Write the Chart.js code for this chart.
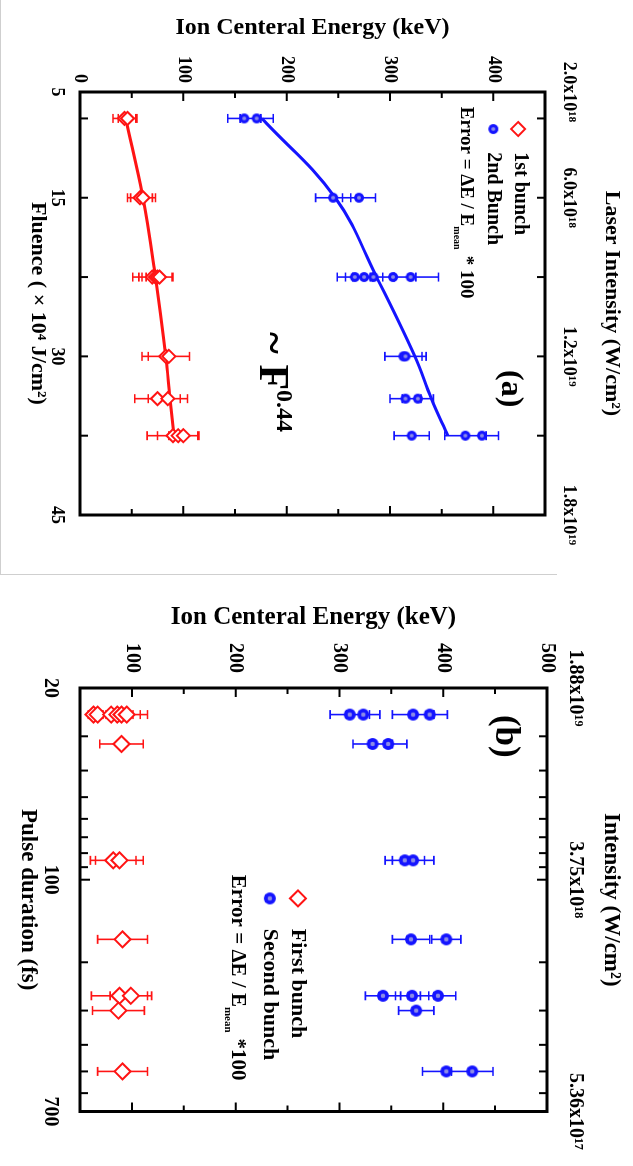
<!DOCTYPE html>
<html>
<head>
<meta charset="utf-8">
<script src="https://cdn.jsdelivr.net/npm/chart.js@4.4.1/dist/chart.umd.min.js"></script>
<style>
  body { margin: 0; background: #fff; }
  #page { position: relative; width: 633px; height: 1166px; overflow: hidden; }
  .frame { position: absolute; left: 0; top: 0; width: 556px; height: 574px; border-left: 1px solid #cfcfcf; border-bottom: 1px solid #cfcfcf; }
  canvas.turned { position: absolute; left: 0; transform-origin: 0 0; transform: translateX(633px) rotate(90deg); }
</style>
</head>
<body>
<div id="page">
  <div class="frame"></div>
  <canvas id="chartA" class="turned" width="580" height="633" style="top:0"></canvas>
  <canvas id="chartB" class="turned" width="581" height="633" style="top:585px"></canvas>
</div>
<script>
// ---------- panel (a): ion energy vs fluence ----------
const fluenceTicks = [5, 7.5, 15, 22.5, 30, 37.5, 45];
const fluenceLabels = {5: '5', 15: '15', 30: '30', 45: '45'};
const laserLabels = {5: '2.0x10¹⁸', 15: '6.0x10¹⁸', 30: '1.2x10¹⁹', 45: '1.8x10¹⁹'};

const firstFluence = [7.5, 7.5, 15, 15, 22.5, 22.5, 22.5, 22.5, 30, 30, 34, 34, 37.5, 37.5, 37.5];
const firstEnergy  = [43, 46, 58, 61, 70, 73, 75, 77, 83, 86, 75, 85, 90, 95, 100];
const firstError   = [11, 9, 12, 12, 19, 16, 15, 13, 23, 20, 22, 19, 25, 20, 14];

const secondFluence = [7.5, 7.5, 15, 15, 22.5, 22.5, 22.5, 22.5, 22.5, 30, 30, 34, 34, 37.5, 37.5, 37.5];
const secondEnergy  = [159, 171, 245, 270, 266, 275, 284, 303, 320, 313, 315, 315, 327, 321, 373, 389];
const secondError   = [16, 16, 17, 16, 17, 18, 20, 22, 27, 18, 20, 15, 15, 17, 20, 16];

const fitFluence = [7.5, 15, 22.5, 30, 34, 37.5];
const fitFirst   = [44, 61, 73, 83, 87, 91];
const fitSecond  = [176, 247, 287, 324, 340, 356];

// ---------- panel (b): ion energy vs pulse duration ----------
const pulseTicks = [20, 30, 40, 50, 60, 70, 80, 90, 100, 200, 300, 400, 500, 600, 700];
const pulseLabels = {20: '20', 100: '100', 700: '700'};
const intensityLabels = {20: '1.88x10¹⁹', 100: '3.75x10¹⁸', 700: '5.36x10¹⁷'};

const firstPulse   = [25, 25, 25, 25, 25, 25, 32, 85, 85, 165, 265, 265, 300, 500];
const firstEnergyB = [63, 67, 80, 86, 90, 95, 90, 82, 88, 91, 88, 99, 87, 91];
const firstErrorB  = [5, 5, 14, 15, 18, 20, 21, 22, 23, 24, 27, 20, 25, 24];

const secondPulse   = [25, 25, 25, 25, 32, 32, 85, 85, 165, 165, 265, 265, 265, 300, 500, 500];
const secondEnergyB = [310, 323, 371, 387, 332, 347, 363, 371, 369, 403, 342, 370, 395, 374, 403, 428];
const secondErrorB  = [19, 16, 20, 17, 19, 18, 19, 20, 18, 14, 17, 16, 17, 17, 23, 20];

const serif = '"Liberation Serif", "Times New Roman", Times, serif';
const red = '#ff1414';
const blue = '#1414ff';

function pts(xs, ys) {
    return xs.map((x, i) => ({x: x, y: ys[i]}));
}

// shaded blue sphere used as point style
function ball(r) {
    const c = document.createElement('canvas');
    c.width = c.height = 2 * r + 2;
    const g = c.getContext('2d');
    const m = r + 1;
    g.fillStyle = blue;
    g.beginPath(); g.arc(m, m, r, 0, 2 * Math.PI); g.fill();
    g.fillStyle = '#8c8ce6';
    g.beginPath(); g.arc(m, m, r * 0.38, 0, 2 * Math.PI); g.fill();
    return c;
}

function boldFont(size) {
    return {family: serif, size: size, weight: 'bold'};
}

// vertical error bars (energy direction) with caps
const errorBars = {
    id: 'errorBars',
    beforeDatasetsDraw(chart) {
        const ctx = chart.ctx;
        const xs = chart.scales.x, ys = chart.scales.y;
        chart.data.datasets.forEach(ds => {
            if (!ds.errors) return;
            ctx.save();
            ctx.strokeStyle = ds.borderColor;
            ctx.lineWidth = 1.6;
            ctx.beginPath();
            ds.data.forEach((p, j) => {
                const px = xs.getPixelForValue(p.x);
                const lo = ys.getPixelForValue(p.y - ds.errors[j]);
                const hi = ys.getPixelForValue(p.y + ds.errors[j]);
                ctx.moveTo(px, lo); ctx.lineTo(px, hi);
                ctx.moveTo(px - 4.5, lo); ctx.lineTo(px + 4.5, lo);
                ctx.moveTo(px - 4.5, hi); ctx.lineTo(px + 4.5, hi);
            });
            ctx.stroke();
            ctx.restore();
        });
    }
};

// closed box with inward ticks on all four sides
function frameTicks(xLen, yStep) {
    return {
        id: 'frameTicks',
        afterDraw(chart) {
            const ctx = chart.ctx, a = chart.chartArea;
            const xs = chart.scales.x, ys = chart.scales.y;
            ctx.save();
            ctx.strokeStyle = '#000';
            ctx.lineWidth = 2;
            ctx.beginPath();
            xs.ticks.forEach(t => {
                const p = xs.getPixelForValue(t.value);
                const len = xLen(t.value);
                ctx.moveTo(p, a.bottom); ctx.lineTo(p, a.bottom - len);
                ctx.moveTo(p, a.top); ctx.lineTo(p, a.top + len);
            });
            ys.ticks.forEach(t => {
                const p = ys.getPixelForValue(t.value);
                const len = t.value % yStep === 0 ? 9 : 6;
                ctx.moveTo(a.left, p); ctx.lineTo(a.left + len, p);
                ctx.moveTo(a.right, p); ctx.lineTo(a.right - len, p);
            });
            ctx.stroke();
            ctx.lineWidth = 3;
            ctx.strokeRect(a.left, a.top, a.right - a.left, a.bottom - a.top);
            ctx.restore();
        }
    };
}

// legend marks and free text placed in data coordinates
function notes(items) {
    return {
        id: 'notes',
        afterDatasetsDraw(chart) {
            const ctx = chart.ctx;
            const xs = chart.scales.x, ys = chart.scales.y;
            ctx.save();
            items.forEach(it => {
                const px = xs.getPixelForValue(it.x);
                const py = ys.getPixelForValue(it.y);
                if (it.mark === 'diamond') {
                    ctx.strokeStyle = red;
                    ctx.lineWidth = 2;
                    ctx.beginPath();
                    ctx.moveTo(px, py - it.r); ctx.lineTo(px + it.r, py);
                    ctx.lineTo(px, py + it.r); ctx.lineTo(px - it.r, py);
                    ctx.closePath();
                    ctx.stroke();
                    return;
                }
                if (it.mark === 'ball') {
                    const img = ball(it.r);
                    ctx.drawImage(img, px - img.width / 2, py - img.height / 2);
                    return;
                }
                ctx.fillStyle = '#000';
                ctx.textAlign = 'left';
                ctx.textBaseline = it.base || 'middle';
                let total = 0;
                it.parts.forEach(p => {
                    ctx.font = 'bold ' + p.size + 'px ' + serif;
                    total += ctx.measureText(p.text).width + (p.gap || 0);
                });
                let cx = it.align === 'center' ? px - total / 2 : px;
                it.parts.forEach(p => {
                    ctx.font = 'bold ' + p.size + 'px ' + serif;
                    ctx.fillText(p.text, cx, py + (p.dy || 0));
                    cx += ctx.measureText(p.text).width + (p.gap || 0);
                });
            });
            ctx.restore();
        }
    };
}

function fixedTicks(values) {
    return scale => { scale.ticks = values.map(v => ({value: v})); };
}

// ---------- chart (a) ----------
new Chart(document.getElementById('chartA'), {
    type: 'scatter',
    data: {
        datasets: [{
            label: '1st bunch',
            data: pts(firstFluence, firstEnergy),
            errors: firstError,
            pointStyle: 'rectRot',
            pointRadius: 6.5,
            borderColor: red,
            backgroundColor: '#fff',
            borderWidth: 2,
            order: 1,
        }, {
            label: '2nd Bunch',
            data: pts(secondFluence, secondEnergy),
            errors: secondError,
            pointStyle: ball(5),
            borderColor: blue,
            backgroundColor: blue,
            order: 1,
        }, {
            label: 'fit 1st',
            data: pts(fitFluence, fitFirst),
            showLine: true,
            pointRadius: 0,
            borderColor: red,
            borderWidth: 3,
            tension: 0.4,
            order: 2,
        }, {
            label: 'fit 2nd',
            data: pts(fitFluence, fitSecond),
            showLine: true,
            pointRadius: 0,
            borderColor: blue,
            borderWidth: 3,
            tension: 0.4,
            order: 2,
        }],
    },
    options: {
        responsive: false,
        animation: false,
        events: [],
        layout: {padding: {right: 65}},
        plugins: {legend: {display: false}, tooltip: {enabled: false}},
        scales: {
            x: {
                type: 'linear', position: 'bottom', min: 5, max: 45,
                afterBuildTicks: fixedTicks(fluenceTicks),
                afterFit: s => { s.height = 80; },
                grid: {display: false, drawTicks: false},
                border: {display: false},
                ticks: {autoSkip: false, maxRotation: 0, minRotation: 0, padding: 13, color: '#000',
                    font: boldFont(18), callback: v => fluenceLabels[v] || ''},
                title: {display: true, text: 'Fluence ( × 10⁴ J/cm²)', color: '#000',
                    font: boldFont(22), padding: {top: 0, bottom: 24}},
            },
            x2: {
                type: 'linear', position: 'top', min: 5, max: 45,
                afterBuildTicks: fixedTicks(fluenceTicks),
                afterFit: s => { s.height = 88; },
                grid: {display: false, drawTicks: false},
                border: {display: false},
                ticks: {autoSkip: false, maxRotation: 0, minRotation: 0, padding: 13, color: '#000',
                    font: boldFont(18), callback: v => laserLabels[v] || ''},
                title: {display: true, text: 'Laser Intensity (W/cm²)', color: '#000',
                    font: boldFont(22), padding: {top: 8, bottom: 0}},
            },
            y: {
                type: 'linear', position: 'left', min: 0, max: 450,
                afterFit: s => { s.width = 92; },
                grid: {display: false, drawTicks: false},
                border: {display: false},
                ticks: {stepSize: 50, autoSkip: false, padding: 9, color: '#000', font: boldFont(18),
                    callback: v => (v % 100 === 0 ? String(v) : '')},
                title: {display: true, text: 'Ion Centeral Energy (keV)', color: '#000',
                    font: boldFont(24), padding: {top: 13, bottom: 0}},
            },
        },
    },
    plugins: [errorBars, frameTicks(() => 8, 100), notes([
        {mark: 'diamond', x: 8.5, y: 424, r: 7},
        {x: 10.7, y: 426, parts: [{text: '1st bunch', size: 20}]},
        {mark: 'ball', x: 8.5, y: 400, r: 5},
        {x: 10.7, y: 400, parts: [{text: '2nd Bunch', size: 20}]},
        {x: 6.4, y: 373, parts: [
            {text: 'Error = ΔE / E', size: 19},
            {text: 'mean', size: 10, dy: 9, gap: 6},
            {text: '* 100', size: 19},
        ]},
        {x: 33.05, y: 416, align: 'center', parts: [{text: '(a)', size: 32}]},
        {x: 27.7, y: 174, base: 'alphabetic', parts: [
            {text: '~ F', size: 42},
            {text: '0.44', size: 24, dy: -17},
        ]},
    ])],
});

// ---------- chart (b) ----------
new Chart(document.getElementById('chartB'), {
    type: 'scatter',
    data: {
        datasets: [{
            label: 'First bunch',
            data: pts(firstPulse, firstEnergyB),
            errors: firstErrorB,
            pointStyle: 'rectRot',
            pointRadius: 8,
            borderColor: red,
            backgroundColor: '#fff',
            borderWidth: 2,
        }, {
            label: 'Second bunch',
            data: pts(secondPulse, secondEnergyB),
            errors: secondErrorB,
            pointStyle: ball(6),
            borderColor: blue,
            backgroundColor: blue,
        }],
    },
    options: {
        responsive: false,
        animation: false,
        events: [],
        layout: {padding: {right: 49}},
        plugins: {legend: {display: false}, tooltip: {enabled: false}},
        scales: {
            x: {
                type: 'logarithmic', position: 'bottom', min: 20, max: 700,
                afterBuildTicks: fixedTicks(pulseTicks),
                afterFit: s => { s.height = 80; },
                grid: {display: false, drawTicks: false},
                border: {display: false},
                ticks: {autoSkip: false, maxRotation: 0, minRotation: 0, padding: 18, color: '#000',
                    font: boldFont(20), callback: v => pulseLabels[v] || ''},
                title: {display: true, text: 'Pulse duration (fs)', color: '#000',
                    font: boldFont(23), padding: {top: 0, bottom: 14}},
            },
            x2: {
                type: 'logarithmic', position: 'top', min: 20, max: 700,
                afterBuildTicks: fixedTicks(pulseTicks),
                afterFit: s => { s.height = 86; },
                grid: {display: false, drawTicks: false},
                border: {display: false},
                ticks: {autoSkip: false, maxRotation: 0, minRotation: 0, padding: 16, color: '#000',
                    font: boldFont(20), callback: v => intensityLabels[v] || ''},
                title: {display: true, text: 'Intensity (W/cm²)', color: '#000',
                    font: boldFont(23), padding: {top: 8, bottom: 0}},
            },
            y: {
                type: 'linear', position: 'left', min: 50, max: 500,
                afterFit: s => { s.width = 103; },
                grid: {display: false, drawTicks: false},
                border: {display: false},
                ticks: {stepSize: 50, autoSkip: false, padding: 15, color: '#000', font: boldFont(20),
                    callback: v => (v % 100 === 0 ? String(v) : '')},
                title: {display: true, text: 'Ion Centeral Energy (keV)', color: '#000',
                    font: boldFont(25), padding: {top: 18, bottom: 0}},
            },
        },
    },
    plugins: [errorBars, frameTicks(v => (v === 100 ? 10 : 8), 100), notes([
        {mark: 'diamond', x: 117, y: 260, r: 8},
        {x: 151, y: 260, parts: [{text: 'First bunch', size: 22}]},
        {mark: 'ball', x: 117, y: 233, r: 6},
        {x: 151, y: 233, parts: [{text: 'Second bunch', size: 22}]},
        {x: 96, y: 202, parts: [
            {text: 'Error = ΔE / E', size: 21},
            {text: 'mean', size: 11, dy: 10, gap: 6},
            {text: '*100', size: 21},
        ]},
        {x: 30, y: 460, align: 'center', parts: [{text: '(b)', size: 35}]},
    ])],
});
</script>
</body>
</html>
